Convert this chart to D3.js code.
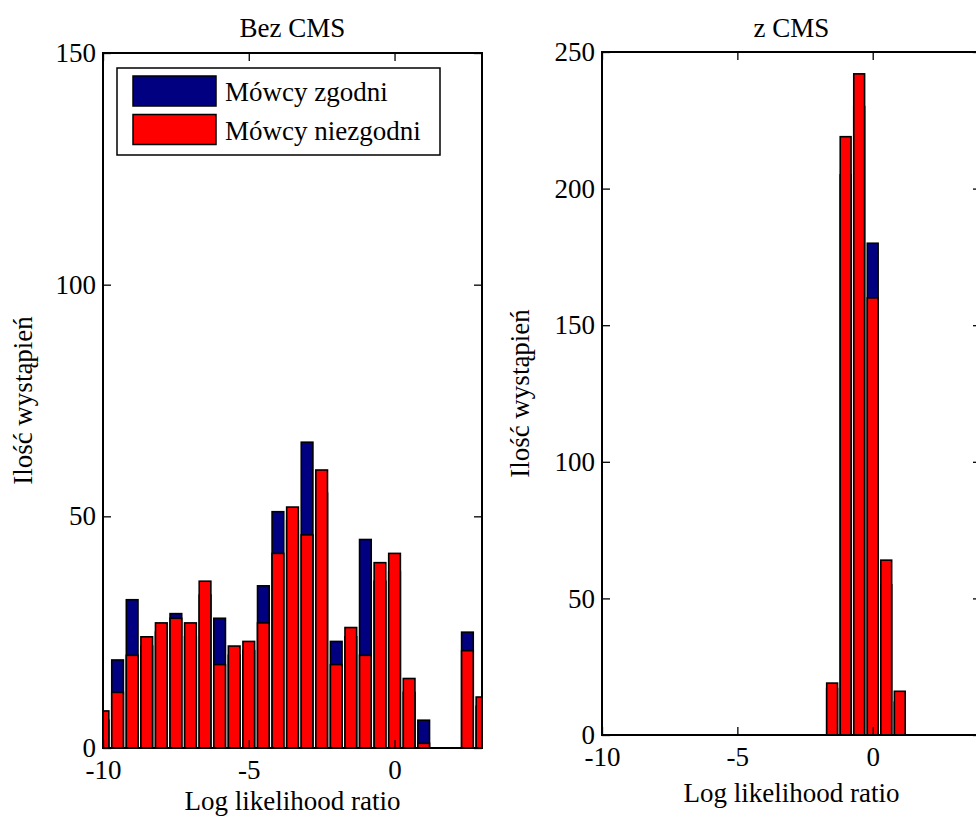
<!DOCTYPE html>
<html>
<head>
<meta charset="utf-8">
<script src="https://cdn.jsdelivr.net/npm/d3@7"></script>
<style>
  body { margin: 0; overflow: hidden; background: #fff; }
  text { font-family: 'Liberation Serif', 'Times New Roman', serif; fill: #000; }
</style>
</head>
<body>
<svg width="976" height="820"></svg>
<script>
// bin centres of the histograms (bin width 0.5)
const binsBez = [-10, -9.5, -9, -8.5, -8, -7.5, -7, -6.5, -6, -5.5, -5, -4.5, -4, -3.5,
  -3, -2.5, -2, -1.5, -1, -0.5, 0, 0.5, 1, 1.5, 2, 2.5, 3]
const zgodniBez = [6, 19, 32, 22, 25, 29, 24, 33, 28, 20, 21, 35, 51, 49,
  66, 55, 23, 24, 45, 36, 38, 12, 6, 0, 0, 25, 9]
const niezgodniBez = [8, 12, 20, 24, 27, 28, 27, 36, 18, 22, 23, 27, 42, 52,
  46, 60, 18, 26, 20, 40, 42, 15, 1, 0, 0, 21, 11]

const binsCms = [-10, -9.5, -9, -8.5, -8, -7.5, -7, -6.5, -6, -5.5, -5, -4.5, -4, -3.5,
  -3, -2.5, -2, -1.5, -1, -0.5, 0, 0.5, 1, 1.5, 2, 2.5, 3, 3.5, 4]
const zgodniCms = [0, 0, 0, 0, 0, 0, 0, 0, 0, 0, 0, 0, 0, 0,
  0, 0, 0, 17, 205, 230, 180, 55, 12, 0, 0, 0, 0, 0, 0]
const niezgodniCms = [0, 0, 0, 0, 0, 0, 0, 0, 0, 0, 0, 0, 0, 0,
  0, 0, 0, 19, 219, 242, 160, 64, 16, 0, 0, 0, 0, 0, 0]

const xTicks = [-10, -5, 0]
const yTicksBez = [0, 50, 100, 150]
const yTicksCms = [0, 50, 100, 150, 200, 250]
const legendLabels = ['Mówcy zgodni', 'Mówcy niezgodni']
const colors = ['#000080', '#ff0000']

const svg = d3.select('svg')
const fontSize = 27
const halfBar = 0.2 // bar width 0.8 of the 0.5 bin

function panel(o) {
  let x = d3.scaleLinear().domain(o.xDomain).range([o.left, o.right]),
    y = d3.scaleLinear().domain(o.yDomain).range([o.bottom, o.top])

  let g = svg.append('g')

  g.append('clipPath')
    .attr('id', o.id)
    .append('rect')
    .attr('x', o.left)
    .attr('y', o.top)
    .attr('width', o.right - o.left)
    .attr('height', o.bottom - o.top)

  let plot = g.append('g').attr('clip-path', 'url(#' + o.id + ')')

  // blue drawn first, red on top of it
  o.series.forEach(function (values, i) {
    plot.selectAll('.bar' + i)
      .data(o.bins.map(function (c, j) { return { c: c, v: values[j] } }))
      .enter()
      .append('rect')
      .attr('class', 'bar' + i)
      .attr('x', function (d) { return x(d.c - halfBar) })
      .attr('width', function (d) { return x(d.c + halfBar) - x(d.c - halfBar) })
      .attr('y', function (d) { return y(d.v) })
      .attr('height', function (d) { return y(0) - y(d.v) })
      .attr('fill', colors[i])
      .attr('stroke', '#000')
      .attr('stroke-width', 1.6)
  })

  let fmt = function (d) { return String(d) }

  // bottom axis with labels, ticks pointing inward
  let bx = g.append('g')
    .attr('transform', 'translate(0,' + o.bottom + ')')
    .call(d3.axisBottom(x).tickValues(xTicks).tickSize(-8).tickPadding(12).tickFormat(fmt))
  // top axis, ticks only
  let tx = g.append('g')
    .attr('transform', 'translate(0,' + o.top + ')')
    .call(d3.axisTop(x).tickValues(xTicks).tickSize(-8).tickFormat(''))
  // left axis with labels
  let ly = g.append('g')
    .attr('transform', 'translate(' + o.left + ',0)')
    .call(d3.axisLeft(y).tickValues(o.yTicks).tickSize(-8).tickPadding(7).tickFormat(fmt))
  // right axis, ticks only
  let ry = g.append('g')
    .attr('transform', 'translate(' + o.right + ',0)')
    .call(d3.axisRight(y).tickValues(o.yTicks).tickSize(-8).tickFormat(''))

  ;[bx, tx, ly, ry].forEach(function (a) {
    a.select('.domain').remove()
    a.selectAll('line').attr('stroke', '#000').attr('stroke-width', 1.3)
    a.selectAll('text')
      .attr('font-size', fontSize)
      .attr('font-family', "'Liberation Serif', 'Times New Roman', serif")
      .attr('fill', '#000')
  })

  // frame
  g.append('rect')
    .attr('x', o.left)
    .attr('y', o.top)
    .attr('width', o.right - o.left)
    .attr('height', o.bottom - o.top)
    .attr('fill', 'none')
    .attr('stroke', '#000')
    .attr('stroke-width', 2)

  let cx = (o.left + o.right) / 2

  g.append('text')
    .attr('x', cx)
    .attr('y', 37)
    .attr('text-anchor', 'middle')
    .attr('font-size', fontSize)
    .text(o.title)

  g.append('text')
    .attr('x', cx)
    .attr('y', o.bottom + o.xLabelDy)
    .attr('text-anchor', 'middle')
    .attr('font-size', fontSize)
    .text('Log likelihood ratio')

  g.append('text')
    .attr('transform', 'translate(' + o.yLabelX + ',' + (o.top + o.bottom) / 2 + ') rotate(-90)')
    .attr('text-anchor', 'middle')
    .attr('font-size', fontSize)
    .text('Ilość wystąpień')

  return g
}

let left = panel({
  id: 'clipBez', title: 'Bez CMS',
  bins: binsBez, series: [zgodniBez, niezgodniBez],
  xDomain: [-10, 3], yDomain: [0, 150], yTicks: yTicksBez,
  left: 103, right: 482, top: 53, bottom: 748, yLabelX: 32, xLabelDy: 62
})

panel({
  id: 'clipCms', title: 'z CMS',
  bins: binsCms, series: [zgodniCms, niezgodniCms],
  xDomain: [-10, 4], yDomain: [0, 250], yTicks: yTicksCms,
  left: 602, right: 981, top: 52, bottom: 735, yLabelX: 529, xLabelDy: 67
})

// legend of the left panel
let legend = left.append('g')
legend.append('rect')
  .attr('x', 117).attr('y', 68)
  .attr('width', 323).attr('height', 87)
  .attr('fill', '#fff').attr('stroke', '#000').attr('stroke-width', 1.5)

legendLabels.forEach(function (label, i) {
  legend.append('rect')
    .attr('x', 133).attr('y', 76 + i * 38.5)
    .attr('width', 83).attr('height', 30)
    .attr('fill', colors[i]).attr('stroke', '#000').attr('stroke-width', 1.5)
  legend.append('text')
    .attr('x', 225).attr('y', 101 + i * 38.5)
    .attr('font-size', fontSize)
    .text(label)
})
</script>
</body>
</html>
